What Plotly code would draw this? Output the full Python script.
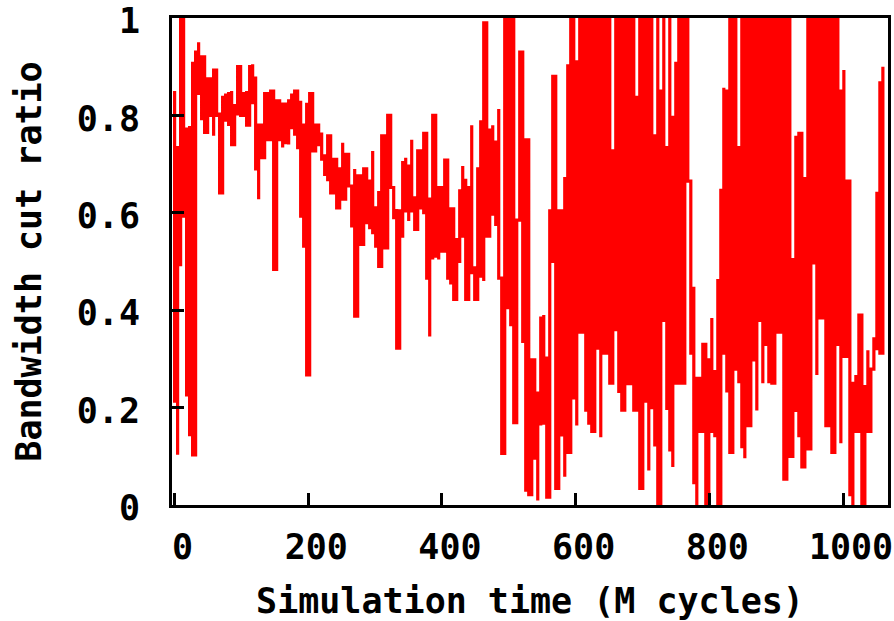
import plotly.graph_objects as go

# Sampling interval of the trace (M cycles per sample)
SAMPLE_INTERVAL = 4.49

# Upper and lower value reached by the bandwidth-cut-ratio trace in each sample interval
ratio_high = [
    0.85, 0.734, 1.0, 1.0, 0.775, 0.775, 0.91, 0.93, 0.95, 0.92,
    0.857, 0.875, 0.875, 0.893, 0.857, 0.806, 0.837, 0.845, 0.845, 0.85,
    0.82, 0.90, 0.857, 0.845, 0.85, 0.90, 0.905, 0.88, 0.78, 0.78,
    0.845, 0.813, 0.85, 0.806, 0.83, 0.813, 0.823, 0.806, 0.83, 0.845,
    0.85, 0.826, 0.83, 0.78, 0.826, 0.845, 0.80, 0.78, 0.775, 0.765,
    0.72, 0.758, 0.727, 0.71, 0.69, 0.69, 0.744, 0.72, 0.69,
    0.658, 0.69, 0.676, 0.62, 0.69, 0.641, 0.665, 0.727, 0.61, 0.645,
    0.758, 0.696, 0.80, 0.74, 0.652, 0.608, 0.604, 0.703, 0.713, 0.696,
    0.75, 0.634, 0.727, 0.652, 0.763, 0.75, 0.628, 0.80, 0.628, 0.652,
    0.583, 0.708, 0.645, 0.608, 0.559, 0.545, 0.645, 0.696, 0.67, 0.652,
    0.78, 0.49, 0.69, 0.79, 0.99, 0.955, 0.77, 0.78, 0.745, 0.813,
    0.466, 1.0, 1.0, 1.0, 0.682, 0.585,
    0.93, 0.82, 0.75, 0.39, 0.298, 0.279, 0.23, 0.384, 0.39, 0.305,
    0.604, 0.88, 0.497, 0.604, 0.53, 0.67, 0.905, 1.0, 1.0, 0.91,
    1.0, 1.0, 1.0, 1.0, 1.0, 1.0, 1.0, 1.0, 1.0, 1.0,
    1.0, 0.727, 1.0, 1.0, 1.0, 1.0, 1.0, 1.0, 1.0, 0.837,
    1.0, 1.0, 1.0, 1.0, 0.682, 0.758, 1.0, 0.85, 1.0, 0.734,
    1.0, 0.796, 0.91, 1.0, 0.796, 1.0, 0.85, 0.665, 0.448, 0.26,
    0.237, 0.33, 0.274, 0.298, 0.384, 0.274, 0.464, 0.646, 0.857, 0.85,
    1.0, 1.0, 1.0, 0.734, 1.0, 1.0, 1.0, 1.0, 1.0, 1.0,
    1.0, 1.0, 0.734, 1.0, 1.0, 1.0, 0.75, 1.0, 1.0, 1.0,
    0.398, 0.504, 0.758, 0.763, 0.763, 0.67, 1.0, 1.0, 1.0, 1.0,
    1.0, 1.0, 1.0, 1.0, 0.91, 1.0, 1.0, 0.85, 0.893, 0.665,
    0.497, 0.25, 0.267, 0.39, 0.26, 0.243, 0.318, 0.279, 0.341, 0.64,
    0.87, 0.90,
]

ratio_low = [
    0.213, 0.103, 0.49, 0.593, 0.226, 0.141, 0.103, 0.562, 0.845, 0.79,
    0.765, 0.80, 0.80, 0.758, 0.80, 0.641, 0.796, 0.79, 0.778, 0.74,
    0.744, 0.80, 0.80, 0.80, 0.78, 0.78, 0.826, 0.69, 0.628, 0.713,
    0.72, 0.75, 0.75, 0.484, 0.614, 0.75, 0.734, 0.744, 0.74, 0.775,
    0.758, 0.734, 0.593, 0.528, 0.267, 0.74, 0.727, 0.727, 0.74, 0.71,
    0.679, 0.665, 0.641, 0.641, 0.61, 0.648, 0.628, 0.648, 0.655,
    0.573, 0.388, 0.573, 0.535, 0.597, 0.58, 0.566, 0.559, 0.528, 0.49,
    0.504, 0.528, 0.682, 0.652, 0.59, 0.322, 0.446, 0.549, 0.604, 0.583,
    0.604, 0.566, 0.597, 0.61, 0.597, 0.466, 0.346, 0.504, 0.511, 0.504,
    0.521, 0.521, 0.466, 0.453, 0.422, 0.466, 0.497, 0.552, 0.422, 0.477,
    0.477, 0.422, 0.49, 0.47, 0.46, 0.552, 0.552, 0.597, 0.573, 0.466,
    0.106, 0.36, 0.405, 0.367, 0.169, 0.213,
    0.585, 0.336, 0.027, 0.021, 0.163, 0.096, 0.009, 0.163, 0.168, 0.016,
    0.305, 0.497, 0.034, 0.305, 0.144, 0.058, 0.108, 0.23, 0.22, 0.163,
    0.355, 0.535, 0.195, 0.165, 0.151, 0.195, 0.322, 0.139, 0.312, 0.36,
    0.25, 0.434, 0.36, 0.23, 0.195, 0.195, 0.249, 0.249, 0.195, 0.195,
    0.034, 0.051, 0.213, 0.071, 0.20, 0.12, 0.0, 0.0, 0.379, 0.195,
    0.113, 0.078, 0.25, 0.553, 0.25, 0.379, 0.665, 0.312, 0.046, 0.0,
    0.151, 0.151, 0.0, 0.0, 0.151, 0.139, 0.0, 0.312, 0.312, 0.231,
    0.108, 0.25, 0.279, 0.25, 0.12, 0.096, 0.163, 0.267, 0.298, 0.194,
    0.379, 0.25, 0.33, 0.25, 0.25, 0.25, 0.355, 0.415, 0.053, 0.071,
    0.10, 0.127, 0.194, 0.139, 0.078, 0.096, 0.115, 0.497, 0.497, 0.267,
    0.384, 0.652, 0.163, 0.26, 0.108, 0.312, 0.33, 0.127, 0.305, 0.312,
    0.021, 0.0, 0.151, 0.151, 0.0, 0.151, 0.151, 0.20, 0.318, 0.318,
    0.312, 0.343,
]

x_tick_vals = [0, 200, 400, 600, 800, 1000]
x_tick_text = ["0", "200", "400", "600", "800", "1000"]
y_tick_vals = [0, 0.2, 0.4, 0.6, 0.8, 1]
y_tick_text = ["0", "0.2", "0.4", "0.6", "0.8", "1"]

# Build the trace path: within each sample interval the line sweeps between its
# extremes, starting from the extreme closest to where the previous interval ended.
xs, ys = [], []
prev = None
for i, (h, l) in enumerate(zip(ratio_high, ratio_low)):
    t = i * SAMPLE_INTERVAL
    if prev is not None and abs(prev - l) < abs(prev - h):
        pair = (l, h)
    else:
        pair = (h, l)
    xs += [t, t]
    ys += list(pair)
    prev = pair[1]

FONT = dict(family="DejaVu Sans Mono", size=35, color="black", weight="bold")

fig = go.Figure()
fig.add_trace(go.Scatter(
    x=xs, y=ys, mode="lines",
    line=dict(color="#ff0000", width=3.2, shape="hv", simplify=False),
    showlegend=False, hoverinfo="skip",
))

fig.update_layout(
    width=894, height=621,
    margin=dict(l=172, r=6, t=18, b=116),
    paper_bgcolor="white", plot_bgcolor="white",
    font=FONT,
    xaxis=dict(
        range=[-3.9, 1067.3], showgrid=False, zeroline=False,
        showline=True, linecolor="black", linewidth=3, mirror=True,
        ticks="inside", ticklen=12, tickwidth=3, tickcolor="black",
        tickvals=x_tick_vals, ticktext=x_tick_text,
        tickfont=FONT, ticklabelstandoff=9, ticklabelshift=8,
        title=dict(text="Simulation time (M cycles)", font=FONT, standoff=24),
        automargin=False,
    ),
    yaxis=dict(
        range=[0, 1], showgrid=False, zeroline=False,
        showline=True, linecolor="black", linewidth=3, mirror=True,
        ticks="inside", ticklen=12, tickwidth=3, tickcolor="black",
        tickvals=y_tick_vals, ticktext=y_tick_text,
        tickfont=FONT, ticklabelstandoff=22, ticklabelshift=3,
        ticklabeloverflow="allow",
        title=dict(text="Bandwidth cut ratio", font=FONT, standoff=25),
        automargin=False,
    ),
)

fig.write_html("out.html")
